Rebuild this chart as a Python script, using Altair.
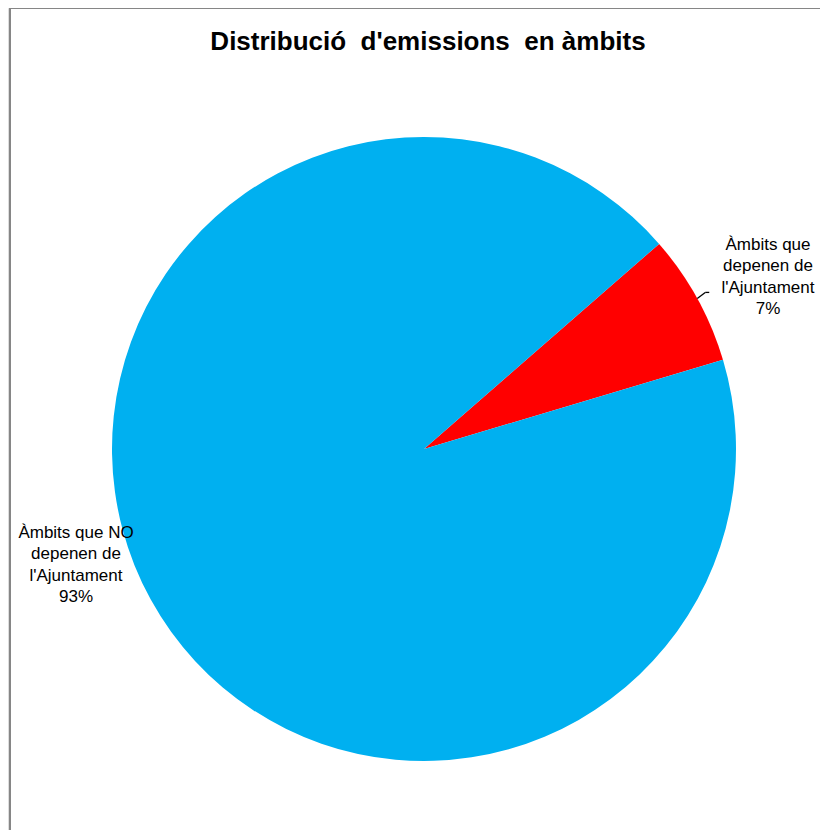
import math
import altair as alt
import pandas as pd

# data
categories = ["Àmbits que depenen de l'Ajuntament", "Àmbits que NO depenen de l'Ajuntament"]
values = [6.8, 93.2]
colors = ["#FF0000", "#00B0F0"]
order = [0, 1]

W, H = 812, 822
CX, CY = 416, 441
R = 312
START_DEG = 48.9

df = pd.DataFrame({"cat": categories, "val": values, "ord": order})

start = math.radians(START_DEG)
pie = alt.Chart(df).mark_arc(outerRadius=R, stroke=None).encode(
    theta=alt.Theta("val:Q", stack=True, scale=alt.Scale(range=[start, start + 2 * math.pi])),
    order=alt.Order("ord:Q"),
    color=alt.Color("cat:N", scale=alt.Scale(domain=categories, range=colors), legend=None),
    x=alt.value(CX),
    y=alt.value(CY),
)

total = sum(values)
pct = [round(v / total * 100) for v in values]
lab_df = pd.DataFrame({
    "txt": [
        "Àmbits que\ndepenen de\nl'Ajuntament\n%d%%" % pct[0],
        "Àmbits que NO\ndepenen de\nl'Ajuntament\n%d%%" % pct[1],
    ],
    "px": [760, 68],
    "py": [229, 517],
})

labels = alt.Chart(lab_df).mark_text(
    font="Liberation Sans", fontSize=17, lineBreak="\n", lineHeight=21.3,
    align="center", baseline="top", color="#000000"
).encode(x=alt.X("px:Q", scale=None), y=alt.Y("py:Q", scale=None), text="txt:N")

# leader line from mid-angle of red slice
mid = start + math.radians(values[0] / total * 360) / 2
ex = CX + R * math.sin(mid)
ey = CY - R * math.cos(mid)
seg = pd.DataFrame({"x": [ex, ex + 8], "y": [ey, ey - 6], "x2": [ex + 8, ex + 12], "y2": [ey - 6, ey - 6]})
leader = alt.Chart(seg).mark_rule(color="#000000", strokeWidth=1.3).encode(
    x=alt.X("x:Q", scale=None), y=alt.Y("y:Q", scale=None),
    x2="x2:Q", y2="y2:Q",
)

title = alt.Chart(pd.DataFrame({"t": ["Distribució\u00a0 d'emissions\u00a0 en àmbits"]})).mark_text(
    font="Liberation Sans", fontSize=26, fontWeight="bold", align="center", baseline="alphabetic", color="#000000"
).encode(x=alt.value(420), y=alt.value(42), text="t:N")

border = alt.Chart(pd.DataFrame({"a": [0]})).mark_rect(
    filled=False, stroke="#868686", strokeWidth=2
).encode(x=alt.value(2), x2=alt.value(W + 20), y=alt.value(0), y2=alt.value(H + 20))

chart = alt.layer(border, pie, leader, labels, title).properties(
    width=W, height=H, autosize=alt.AutoSizeParams(type="none"), padding=0
).configure_view(stroke=None).configure(background="white")

chart.save("out.html", embed_options={"renderer": "svg", "actions": False})
